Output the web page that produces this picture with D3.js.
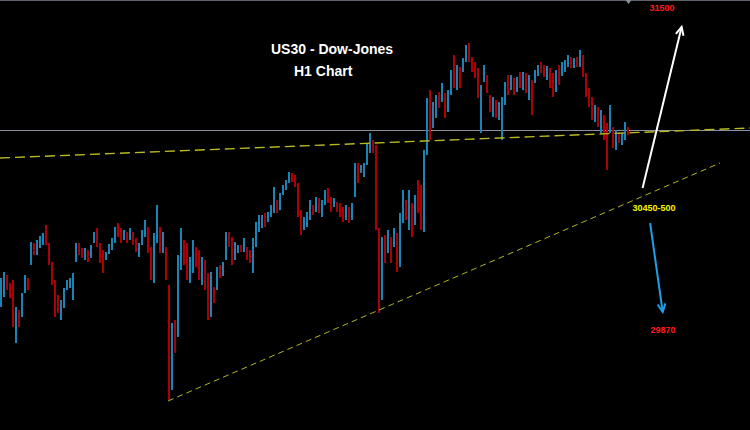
<!DOCTYPE html>
<html>
<head>
<meta charset="utf-8">
<script src="https://cdn.jsdelivr.net/npm/d3@7"></script>
<style>
  html, body { margin: 0; padding: 0; background: #000; }
  svg { display: block; }
</style>
</head>
<body>
<svg id="chart" width="750" height="430"></svg>
<script>
// ---- Data: US30 H1 candles (price) ----
const highs = [30150,30180,30165,30125,30140,30005,29990,30075,30165,30150,
30330,30325,30340,30360,30375,30415,30325,30230,30140,30065,
30040,30100,30140,30150,30175,30325,30325,30300,30300,30290,
30315,30380,30400,30325,30290,30280,30320,30350,30405,30425,
30400,30390,30380,30400,30380,30350,30325,30390,30440,30405,
30305,30375,30515,30405,30380,30305,30115,29925,29940,30265,
30400,30340,30325,30255,30340,30305,30290,30255,30240,30175,
30180,30105,30205,30215,30230,30380,30380,30355,30330,30315,
30315,30350,30305,30290,30350,30430,30465,30465,30475,30480,
30515,30605,30540,30575,30615,30640,30680,30675,30665,30625,
30490,30455,30480,30540,30515,30555,30550,30540,30590,30600,
30555,30550,30530,30525,30505,30515,30505,30525,30725,30725,
30715,30725,30825,30875,30840,30815,30400,30355,30365,30390,
30355,30400,30375,30475,30590,30540,30590,30525,30565,30640,
30615,30790,31050,31090,31030,31065,31080,31125,31075,31090,
31190,31265,31215,31205,31250,31315,31325,31255,31230,31200,
31115,31215,31165,31065,31055,31040,31030,31055,31130,31165,
31165,31150,31155,31180,31180,31175,31165,31140,31190,31215,
31230,31215,31210,31200,31175,31190,31215,31230,31240,31265,
31255,31250,31255,31290,31265,31175,31100,31055,31015,31005,
30990,30965,30925,31015,30905,30890,30880,30875,30930,30905];

const lows = [30005,30055,30090,30050,29905,29825,29905,29955,30075,30090,
30215,30265,30265,30300,30315,30315,30215,30115,29955,29975,
29940,30000,30090,30100,30040,30230,30265,30250,30240,30230,
30250,30325,30305,30225,30175,30240,30270,30290,30325,30355,
30325,30340,30325,30340,30315,30280,30255,30315,30355,30275,
30140,30125,30325,30275,30275,30140,29540,29590,29775,29855,
30190,30215,30140,30125,30175,30205,30140,30115,30090,29940,
29955,30025,30090,30150,30160,30240,30305,30215,30240,30275,
30280,30280,30240,30225,30175,30305,30380,30400,30405,30430,
30455,30475,30475,30490,30565,30590,30625,30630,30605,30455,
30365,30390,30405,30440,30465,30480,30475,30455,30515,30525,
30480,30505,30480,30455,30430,30440,30425,30440,30555,30625,
30675,30655,30715,30775,30775,30390,29975,30040,30225,30275,
30225,30305,30180,30205,30425,30440,30390,30355,30415,30475,
30390,30380,30765,30840,30900,30950,31000,31030,30950,30980,
31065,31100,31090,31100,31180,31230,31230,31180,31150,31050,
30875,31130,31075,30980,30955,30950,30940,30840,31015,31065,
31090,31065,31080,31100,31090,31075,31040,30965,31125,31160,
31175,31155,31140,31100,31055,31080,31115,31160,31180,31205,
31200,31200,31205,31205,31155,31055,31005,30940,30930,30905,
30875,30840,30690,30875,30800,30790,30825,30815,30840,30865];

const closes = [30115,30140,30105,30090,29940,29980,29965,30060,30140,30130,
30300,30290,30330,30340,30360,30340,30230,30125,30040,30000,
30020,30090,30105,30110,30140,30300,30280,30265,30290,30250,
30300,30365,30320,30250,30215,30265,30310,30340,30390,30375,
30350,30375,30340,30380,30325,30290,30310,30375,30400,30300,
30240,30340,30380,30315,30340,30150,29690,29890,29840,30230,
30340,30250,30190,30230,30290,30240,30180,30215,30115,29990,
30115,30080,30180,30165,30215,30340,30320,30250,30290,30300,
30290,30330,30265,30250,30315,30400,30415,30440,30430,30465,
30490,30515,30490,30565,30600,30620,30665,30650,30615,30480,
30400,30430,30465,30515,30490,30540,30490,30515,30575,30540,
30515,30525,30500,30480,30450,30490,30465,30515,30690,30650,
30700,30715,30800,30840,30815,30415,30040,30315,30265,30365,
30250,30380,30215,30440,30540,30465,30565,30390,30540,30515,
30415,30765,31015,30890,30990,31040,31015,31100,30990,31065,
31165,31140,31190,31115,31230,31300,31250,31200,31180,31065,
31090,31190,31090,31000,31030,30965,31015,31040,31115,31090,
31150,31080,31140,31115,31165,31090,31115,31000,31165,31200,
31190,31180,31200,31115,31080,31165,31140,31215,31230,31250,
31215,31240,31215,31280,31165,31065,31040,30950,30990,30915,
30965,30865,30840,30990,30815,30865,30840,30850,30915,30890];

const firstOpen = 30040;

// Reference levels / annotations (price units, slot index for time)
const levelPrice = 30890;                       // grey horizontal level
const upperTrend = [[-0.5, 30750], [249.5, 30900]];
const lowerTrend = [[55.5, 29535], [239.5, 30725]];
const upArrow   = [[213.7, 30600], [226.7, 31405]];
const downArrow = [[216.2, 30425], [220.4, 29980]];
const targetLabels = [
  {text: "31500",     slot: 220.2, price: 31500, color: "#ff1a1a"},
  {text: "30450-500", slot: 217.5, price: 30500, color: "#f5f500"},
  {text: "29870",     slot: 220.5, price: 29890, color: "#ff1a1a"}
];
const titleLines = ["US30 - Dow-Jones", "H1 Chart"];

// ---- Scales ----
const W = 750, H = 430;
const svg = d3.select("#chart");
svg.append("rect").attr("width", W).attr("height", H).attr("fill", "#000");

const x = d3.scaleLinear().domain([-0.5, 249.5]).range([0, W]);
const y = d3.scaleLinear().domain([29390, 31540]).range([H, 0]);

const candles = closes.map((c, i) => ({
  i, high: highs[i], low: lows[i], close: c,
  open: i === 0 ? firstOpen : closes[i - 1]
}));

const up = "#1a84b4", down = "#ac0008";
const slot = x(1) - x(0);

// top border line
svg.append("line").attr("x1", 0).attr("x2", W).attr("y1", 0.5).attr("y2", 0.5)
  .attr("stroke", "#5e636e").attr("stroke-width", 1);

// grey horizontal level
svg.append("line").attr("x1", 0).attr("x2", W)
  .attr("y1", Math.round(y(levelPrice)) + 0.5).attr("y2", Math.round(y(levelPrice)) + 0.5)
  .attr("stroke", "#8a8f9e").attr("stroke-width", 1);

// candles (drawn as 2px bars high-to-low, body over it)
const g = svg.append("g");
g.selectAll("rect.wick").data(candles).enter().append("rect")
  .attr("class", "wick")
  .attr("x", d => Math.round(x(d.i) - slot / 2))
  .attr("width", 2)
  .attr("y", d => y(d.high))
  .attr("height", d => Math.max(1, y(d.low) - y(d.high)))
  .attr("fill", d => d.close >= d.open ? up : down);

// last-candle marker on the top edge
const lastX = x(candles.length - 1);
svg.append("path")
  .attr("d", `M${lastX - 3},0 L${lastX + 3},0 L${lastX},4 Z`)
  .attr("fill", "#8a8f9e");

// trendlines
const line = d3.line().x(d => x(d[0])).y(d => y(d[1]));
svg.append("path").attr("d", line(upperTrend))
  .attr("fill", "none").attr("stroke", "#b8b822").attr("stroke-width", 1.4)
  .attr("stroke-dasharray", "10,5");
svg.append("path").attr("d", line(lowerTrend))
  .attr("fill", "none").attr("stroke", "#b4b420").attr("stroke-width", 1)
  .attr("stroke-dasharray", "6,4");

// arrows
function arrow(pts, color) {
  const x1 = x(pts[0][0]), y1 = y(pts[0][1]), x2 = x(pts[1][0]), y2 = y(pts[1][1]);
  svg.append("line").attr("x1", x1).attr("y1", y1).attr("x2", x2).attr("y2", y2)
    .attr("stroke", color).attr("stroke-width", 2);
  const ang = Math.atan2(y2 - y1, x2 - x1), L = 9, spread = 0.45;
  const a1 = ang + Math.PI - spread, a2 = ang + Math.PI + spread;
  svg.append("path")
    .attr("d", `M${x2 + L * Math.cos(a1)},${y2 + L * Math.sin(a1)} L${x2},${y2} L${x2 + L * Math.cos(a2)},${y2 + L * Math.sin(a2)}`)
    .attr("fill", "none").attr("stroke", color).attr("stroke-width", 2)
    .attr("stroke-linejoin", "miter");
}
arrow(upArrow, "#ffffff");
arrow(downArrow, "#1e9ee6");

// target labels
svg.selectAll("text.target").data(targetLabels).enter().append("text")
  .attr("class", "target")
  .attr("x", d => x(d.slot)).attr("y", d => y(d.price) + 3)
  .attr("text-anchor", "middle")
  .attr("font-family", "Liberation Sans, Arial, sans-serif")
  .attr("font-weight", "bold").attr("font-size", 9)
  .attr("fill", d => d.color)
  .text(d => d.text);

// title
svg.append("text").attr("x", 271).attr("y", 54)
  .attr("font-family", "Liberation Sans, Arial, sans-serif")
  .attr("font-weight", "bold").attr("font-size", 14).attr("fill", "#fff")
  .text(titleLines[0]);
svg.append("text").attr("x", 294).attr("y", 76)
  .attr("font-family", "Liberation Sans, Arial, sans-serif")
  .attr("font-weight", "bold").attr("font-size", 14).attr("fill", "#fff")
  .text(titleLines[1]);
</script>
</body>
</html>
